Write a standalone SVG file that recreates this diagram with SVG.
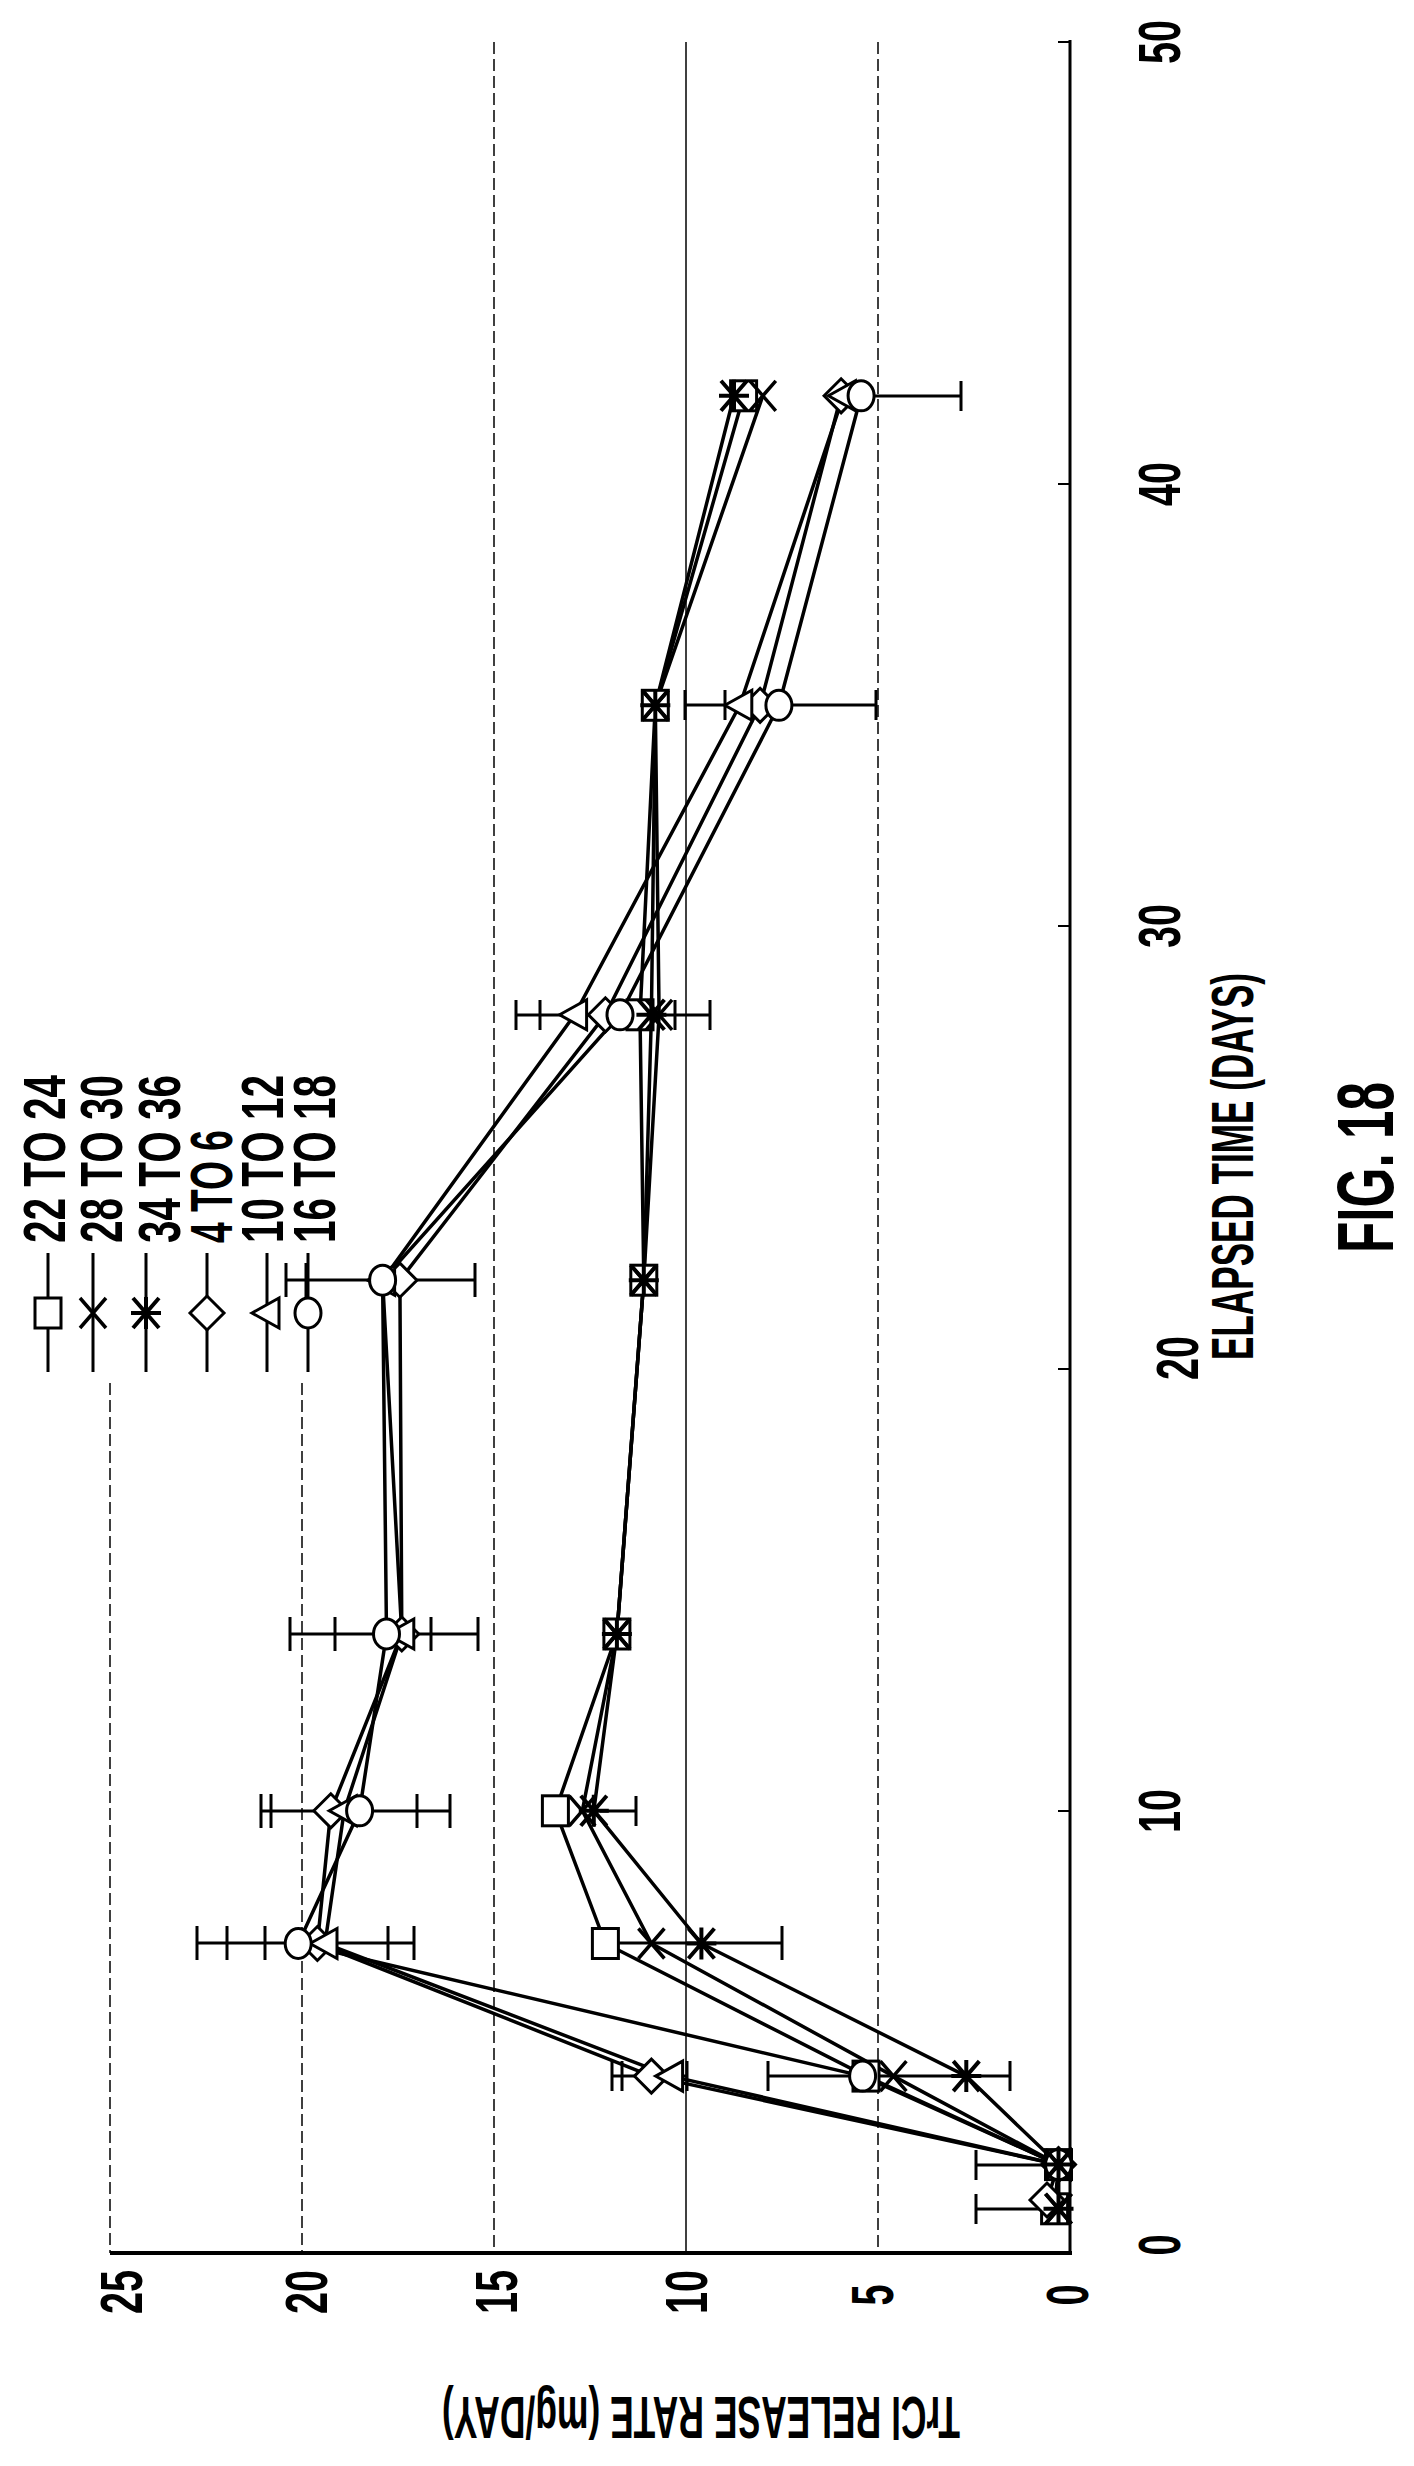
<svg xmlns="http://www.w3.org/2000/svg" xmlns:xlink="http://www.w3.org/1999/xlink" width="1414" height="2466" viewBox="0 0 1414 2466">
<style>
.t{font-family:"Liberation Sans",Arial,sans-serif;font-weight:bold;fill:#000}
.grid{stroke:#000;stroke-width:1.5;stroke-dasharray:12 5;fill:none}
.ser{fill:none;stroke:#000;stroke-width:3.5;stroke-linejoin:round}
.eb{fill:none;stroke:#000;stroke-width:3}
.mk{fill:#fff;stroke:#000;stroke-width:3}
</style>
<defs>
<g id="sq"><rect x="-13" y="-15" width="26" height="30" class="mk"/></g>
<g id="xx"><path d="M-13,-15L13,15M-13,15L13,-15" stroke="#000" stroke-width="3.5" fill="none"/></g>
<g id="as"><path d="M-13,-15L13,15M-13,15L13,-15M-15,0H15M0,-16V16" stroke="#000" stroke-width="4" fill="none"/></g>
<g id="di"><path d="M-17,0L0,-17L17,0L0,17Z" class="mk"/></g>
<g id="tr"><path d="M-15,0L12,-15L12,15Z" class="mk"/></g>
<g id="ci"><ellipse cx="0" cy="0" rx="13" ry="15" class="mk"/></g>
</defs>

<g id="grid">
<line class="grid" x1="110" y1="1383" x2="110" y2="2253"/>
<line class="grid" x1="302" y1="1383" x2="302" y2="2253"/>
<line class="grid" x1="494" y1="42" x2="494" y2="2253"/>
<line x1="686" y1="42" x2="686" y2="2253" stroke="#000" stroke-width="1.5"/>
<line class="grid" x1="878" y1="42" x2="878" y2="2253"/>
</g>

<g id="axes">
<line x1="110" y1="2253" x2="1072" y2="2253" stroke="#000" stroke-width="4"/>
<line x1="1070" y1="40" x2="1070" y2="2255" stroke="#000" stroke-width="3"/>
<path d="M1058,42H1070M1058,484H1070M1058,926H1070M1058,1369H1070M1058,1811H1070" stroke="#000" stroke-width="2"/>
</g>

<g id="ticklabels" class="t" font-size="60">
<text transform="translate(142,2292) rotate(-90)" text-anchor="middle" textLength="44" lengthAdjust="spacingAndGlyphs">25</text>
<text transform="translate(327,2292) rotate(-90)" text-anchor="middle" textLength="44" lengthAdjust="spacingAndGlyphs">20</text>
<text transform="translate(517,2292) rotate(-90)" text-anchor="middle" textLength="44" lengthAdjust="spacingAndGlyphs">15</text>
<text transform="translate(707,2292) rotate(-90)" text-anchor="middle" textLength="44" lengthAdjust="spacingAndGlyphs">10</text>
<text transform="translate(893,2295) rotate(-90)" text-anchor="middle" textLength="21" lengthAdjust="spacingAndGlyphs">5</text>
<text transform="translate(1088,2295) rotate(-90)" text-anchor="middle" textLength="21" lengthAdjust="spacingAndGlyphs">0</text>
<text transform="translate(1180,2245) rotate(-90)" text-anchor="middle" textLength="21" lengthAdjust="spacingAndGlyphs">0</text>
<text transform="translate(1180,1811) rotate(-90)" text-anchor="middle" textLength="44" lengthAdjust="spacingAndGlyphs">10</text>
<text transform="translate(1198,1358) rotate(-90)" text-anchor="middle" textLength="44" lengthAdjust="spacingAndGlyphs">20</text>
<text transform="translate(1180,926) rotate(-90)" text-anchor="middle" textLength="44" lengthAdjust="spacingAndGlyphs">30</text>
<text transform="translate(1180,484) rotate(-90)" text-anchor="middle" textLength="44" lengthAdjust="spacingAndGlyphs">40</text>
<text transform="translate(1180,42) rotate(-90)" text-anchor="middle" textLength="44" lengthAdjust="spacingAndGlyphs">50</text>
</g>

<g id="axis-titles" class="t">
<text transform="translate(1253,1360) rotate(-90)" font-size="60" textLength="387" lengthAdjust="spacingAndGlyphs">ELAPSED TIME (DAYS)</text>
<text transform="translate(701,2397) rotate(180)" text-anchor="middle" font-size="60" textLength="518" lengthAdjust="spacingAndGlyphs">TrCl RELEASE RATE (mg/DAY)</text>
<text transform="translate(1393,1253) rotate(-90)" font-size="80" textLength="171" lengthAdjust="spacingAndGlyphs">FIG. 18</text>
</g>

<g id="legend">
<g class="t" font-size="60">
<text transform="translate(65,1243) rotate(-90)" textLength="168" lengthAdjust="spacingAndGlyphs">22 TO 24</text>
<text transform="translate(122,1243) rotate(-90)" textLength="168" lengthAdjust="spacingAndGlyphs">28 TO 30</text>
<text transform="translate(180,1243) rotate(-90)" textLength="168" lengthAdjust="spacingAndGlyphs">34 TO 36</text>
<text transform="translate(232,1243) rotate(-90)" textLength="113" lengthAdjust="spacingAndGlyphs">4 TO 6</text>
<text transform="translate(283,1243) rotate(-90)" textLength="168" lengthAdjust="spacingAndGlyphs">10 TO 12</text>
<text transform="translate(335,1243) rotate(-90)" textLength="168" lengthAdjust="spacingAndGlyphs">16 TO 18</text>
</g>
<path d="M48,1253V1372M93,1253V1372M146,1253V1372M207,1253V1372M267,1253V1372M308,1253V1372" stroke="#000" stroke-width="3"/>
<use xlink:href="#sq" x="48" y="1313"/>
<use xlink:href="#xx" x="93" y="1313"/>
<use xlink:href="#as" x="146" y="1313"/>
<use xlink:href="#di" x="207" y="1313"/>
<use xlink:href="#tr" x="267" y="1313"/>
<use xlink:href="#ci" x="308" y="1313"/>
</g>

<g id="connectors">
<g id="errorbars" class="eb">
<path d="M976,2209H1058M976,2194V2224M976,2165H1058M976,2150V2180"/>
<path d="M612,2076H687M612,2061V2091M622,2061V2091M687,2061V2091M768,2076H1010M768,2061V2091M1010,2061V2091"/>
<path d="M197,1943H414M197,1926V1960M227,1926V1960M265,1926V1960M388,1926V1960M414,1926V1960M605,1943H782M782,1926V1960"/>
<path d="M261,1811H450M261,1794V1828M271,1794V1828M417,1794V1828M450,1794V1828M600,1811H636M636,1796V1826"/>
<path d="M290,1634H478M290,1617V1651M335,1617V1651M431,1617V1651M478,1617V1651"/>
<path d="M286,1280H475M286,1263V1297M306,1263V1297M475,1263V1297"/>
<path d="M516,1015H710M516,1000V1030M540,1000V1030M675,1000V1030M710,1000V1030"/>
<path d="M685,705H725M685,690V720M725,690V720M779,705H876M876,690V720"/>
<path d="M861,396H961M961,381V411"/>
</g>
<g id="lines">
<polyline class="ser" points="1054.6,2208.8 1058.5,2164.6 866,2076.1 605.4,1943.5 555.4,1810.8 616.9,1634 643.8,1280.2 640,1014.8 655.3,705.3 743.6,395.8"/>
<polyline class="ser" points="1058.5,2208.8 1058.5,2164.6 893.4,2076.1 651.4,1943.5 582.3,1810.8 616.9,1634 643.8,1280.2 659.1,1014.8 655.3,705.3 762.8,395.8"/>
<polyline class="ser" points="1058.5,2208.8 1058.5,2164.6 966.3,2076.1 701.4,1943.5 593.8,1810.8 616.9,1634 643.8,1280.2 651.4,1014.8 655.3,705.3 734,395.8"/>
<polyline class="ser" points="1047,2200 1058.5,2164.6 651.4,2076.1 317.4,1943.5 330.8,1810.8 401.8,1634 399.9,1280.2 605.4,1014.8 760.1,705.3 841.1,395.8"/>
<polyline class="ser" points="1058.5,2164.6 670.6,2076.1 325,1943.5 344.2,1810.8 401.8,1634 382.6,1280.2 574.6,1014.8 739.8,705.3 843.4,395.8"/>
<polyline class="ser" points="1058.5,2164.6 862.6,2076.1 298.2,1943.5 359.6,1810.8 386.5,1634 382.6,1280.2 620,1014.8 778.9,705.3 861.1,395.8"/>
</g>
</g>

<g id="markers">
<use xlink:href="#sq" x="1054.6" y="2208.8"/><use xlink:href="#sq" x="1058.5" y="2164.6"/><use xlink:href="#sq" x="866" y="2076.1"/><use xlink:href="#sq" x="605.4" y="1943.5"/><use xlink:href="#sq" x="555.4" y="1810.8"/><use xlink:href="#sq" x="616.9" y="1634"/><use xlink:href="#sq" x="643.8" y="1280.2"/><use xlink:href="#sq" x="640" y="1014.8"/><use xlink:href="#sq" x="655.3" y="705.3"/><use xlink:href="#sq" x="743.6" y="395.8"/>
<use xlink:href="#di" x="1047" y="2200"/><use xlink:href="#di" x="1058.5" y="2164.6"/><use xlink:href="#di" x="651.4" y="2076.1"/><use xlink:href="#di" x="317.4" y="1943.5"/><use xlink:href="#di" x="330.8" y="1810.8"/><use xlink:href="#di" x="401.8" y="1634"/><use xlink:href="#di" x="399.9" y="1280.2"/><use xlink:href="#di" x="605.4" y="1014.8"/><use xlink:href="#di" x="760.1" y="705.3"/><use xlink:href="#di" x="841.1" y="395.8"/>
<use xlink:href="#tr" x="1058.5" y="2164.6"/><use xlink:href="#tr" x="670.6" y="2076.1"/><use xlink:href="#tr" x="325" y="1943.5"/><use xlink:href="#tr" x="344.2" y="1810.8"/><use xlink:href="#tr" x="401.8" y="1634"/><use xlink:href="#tr" x="382.6" y="1280.2"/><use xlink:href="#tr" x="574.6" y="1014.8"/><use xlink:href="#tr" x="739.8" y="705.3"/><use xlink:href="#tr" x="843.4" y="395.8"/>
<use xlink:href="#ci" x="1058.5" y="2164.6"/><use xlink:href="#ci" x="862.6" y="2076.1"/><use xlink:href="#ci" x="298.2" y="1943.5"/><use xlink:href="#ci" x="359.6" y="1810.8"/><use xlink:href="#ci" x="386.5" y="1634"/><use xlink:href="#ci" x="382.6" y="1280.2"/><use xlink:href="#ci" x="620" y="1014.8"/><use xlink:href="#ci" x="778.9" y="705.3"/><use xlink:href="#ci" x="861.1" y="395.8"/>
<use xlink:href="#xx" x="1058.5" y="2208.8"/><use xlink:href="#xx" x="1058.5" y="2164.6"/><use xlink:href="#xx" x="893.4" y="2076.1"/><use xlink:href="#xx" x="651.4" y="1943.5"/><use xlink:href="#xx" x="582.3" y="1810.8"/><use xlink:href="#xx" x="616.9" y="1634"/><use xlink:href="#xx" x="643.8" y="1280.2"/><use xlink:href="#xx" x="659.1" y="1014.8"/><use xlink:href="#xx" x="655.3" y="705.3"/><use xlink:href="#xx" x="762.8" y="395.8"/>
<use xlink:href="#as" x="1058.5" y="2208.8"/><use xlink:href="#as" x="1058.5" y="2164.6"/><use xlink:href="#as" x="966.3" y="2076.1"/><use xlink:href="#as" x="701.4" y="1943.5"/><use xlink:href="#as" x="593.8" y="1810.8"/><use xlink:href="#as" x="616.9" y="1634"/><use xlink:href="#as" x="643.8" y="1280.2"/><use xlink:href="#as" x="651.4" y="1014.8"/><use xlink:href="#as" x="655.3" y="705.3"/><use xlink:href="#as" x="734" y="395.8"/>
</g>
</svg>
